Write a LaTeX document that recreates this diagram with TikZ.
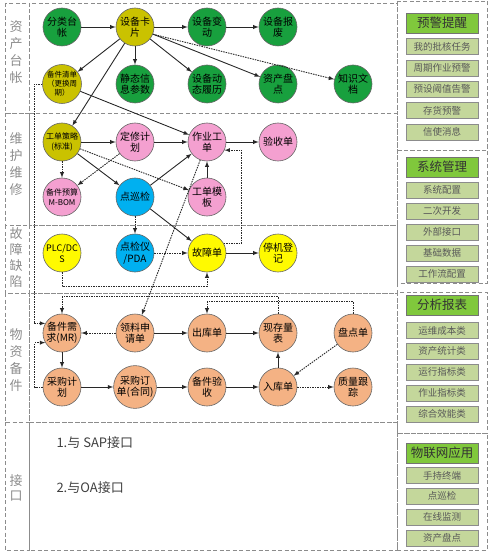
\documentclass[tikz,border=0pt]{standalone}
\usepackage{fontspec}
\setmainfont{Noto Sans CJK SC}
\usepackage{xcolor}
\usetikzlibrary{arrows}
\usetikzlibrary{math, calc}
\definecolor{qgreen}{RGB}{24,160,62}
\definecolor{qolive}{RGB}{202,194,0}
\definecolor{qpink}{RGB}{244,160,208}
\definecolor{qblue}{RGB}{0,176,240}
\definecolor{qyellow}{RGB}{255,250,0}
\definecolor{qpeach}{RGB}{244,178,132}
\definecolor{qhead}{RGB}{128,200,60}
\definecolor{qitem}{RGB}{196,215,155}
\definecolor{qgray}{RGB}{140,140,140}
\definecolor{qline}{RGB}{40,40,40}

\begin{document}
\begin{tikzpicture}[x=1pt,y=-1pt,
  ball/.style={circle,draw=black!60,line width=0.6,minimum size=38,inner sep=0,align=center,font=\fontsize{10}{11.5}\selectfont},
  smallfont/.style={font=\fontsize{7.5}{9}\selectfont},
  flow/.style={qline,line width=0.9,-latex},
  hint/.style={qline,line width=0.9,-latex,dash pattern=on 1.5pt off 1pt},
  secframe/.style={qgray,line width=0.8,dash pattern=on 4pt off 2.5pt},
  sidelabel/.style={text=qgray,align=center,font=\fontsize{13}{17}\selectfont},
  head/.style={draw=black!55,fill=qhead,minimum width=72,minimum height=20,inner sep=0,font=\fontsize{12.5}{14}\selectfont,text=black!80},
  item/.style={draw=black!45,fill=qitem,minimum width=72,minimum height=16,inner sep=0,font=\fontsize{9.5}{11}\selectfont,text=black!65},
]
\tikzmath{
\ca=62; \cb=135; \cc=207; \cd=278; \ce=353;
\ra=27; \rb=84; \rc=142; \rd=197; \re=253; \rf=333; \rg=387;
\px=442;
}
\useasboundingbox (0,0) rectangle (494,556);

%frames:
 \foreach \ya/\yb in {3/113,113/225,225/293,293/422,422/550}{
  \draw[secframe] (5,\ya) rectangle (29,\yb);
  \draw[secframe] (29,\ya) rectangle (397,\yb);
 }
 \draw[secframe] (397,1) rectangle (487,150);
 \draw[secframe] (397,150) rectangle (487,283);
 \draw[secframe] (397,292) rectangle (487,433);
 \draw[secframe] (397,433) rectangle (487,550);

%section labels
 \node[sidelabel] (sZC) at (16,52) {资\\产\\台\\帐};
 \node[sidelabel] (sWH) at (16,164) {维\\护\\维\\修};
 \node[sidelabel,font=\fontsize{13}{16}\selectfont] (sGZ) at (16,258) {故\\障\\缺\\陷};
 \node[sidelabel] (sWZ) at (16,360) {物\\资\\备\\件};
 \node[sidelabel,font=\fontsize{13}{15}\selectfont] (sJK) at (16,488) {接\\口};

%assets
 \node[ball,fill=qgreen] (fenlei) at (\ca,\ra) {分类台\\帐};
 \node[ball,fill=qolive] (kapian) at (\cb,\ra) {设备卡\\片};
 \node[ball,fill=qgreen] (biandong) at (\cc,\ra) {设备变\\动};
 \node[ball,fill=qgreen] (baofei) at (\cd,\ra) {设备报\\废};
 \node[ball,fill=qolive,smallfont] (qingdan) at (\ca,\rb) {备件清单\\（更换周\\期）};
 \node[ball,fill=qgreen] (jingtai) at (\cb,\rb) {静态信\\息参数};
 \node[ball,fill=qgreen] (lvli) at (\cc,\rb) {设备动\\态履历};
 \node[ball,fill=qgreen] (zcpandian) at (\cd,\rb) {资产盘\\点};
 \node[ball,fill=qgreen] (zhishi) at (\ce,\rb) {知识文\\档};

%maintenance
 \node[ball,fill=qolive,font=\fontsize{8}{10}\selectfont] (celue) at (\ca,\rc) {工单策略\\(标准)};
 \node[ball,fill=qpink] (dingxiu) at (\cb,\rc) {定修计\\划};
 \node[ball,fill=qpink] (gongdan) at (\cc,\rc) {作业工\\单};
 \node[ball,fill=qpink] (yanshou) at (\cd,\rc) {验收单};
 \node[ball,fill=qpink,font=\fontsize{8}{10}\selectfont] (yusuan) at (\ca,\rd) {备件预算\\M-BOM};
 \node[ball,fill=qblue] (xunjian) at (\cb,\rd) {点巡检};
 \node[ball,fill=qpink] (moban) at (\cc,\rd) {工单模\\板};

%faults
 \node[ball,fill=qyellow,font=\fontsize{9}{11}\selectfont] (plc) at (\ca,\re) {PLC/DC\\S};
 \node[ball,fill=qblue] (pda) at (\cb,\re) {点检仪\\/PDA};
 \node[ball,fill=qyellow] (guzhang) at (\cc,\re) {故障单};
 \node[ball,fill=qyellow] (tingji) at (\cd,\re) {停机登\\记};

%spare parts
 \node[ball,fill=qpeach] (xuqiu) at (\ca,\rf) {备件需\\求(MR)};
 \node[ball,fill=qpeach] (lingliao) at (\cb,\rf) {领料申\\请单};
 \node[ball,fill=qpeach] (chuku) at (\cc,\rf) {出库单};
 \node[ball,fill=qpeach] (kucun) at (\cd,\rf) {现存量\\表};
 \node[ball,fill=qpeach] (pandian) at (\ce,\rf) {盘点单};
 \node[ball,fill=qpeach] (caigou) at (\ca,\rg) {采购计\\划};
 \node[ball,fill=qpeach] (dingdan) at (\cb,\rg) {采购订\\单(合同)};
 \node[ball,fill=qpeach] (bjyanshou) at (\cc,\rg) {备件验\\收};
 \node[ball,fill=qpeach] (ruku) at (\cd,\rg) {入库单};
 \node[ball,fill=qpeach] (zhiliang) at (\ce,\rg) {质量跟\\踪};

%interfaces
 \node[anchor=west,font=\fontsize{13}{15}\selectfont,text=black!75] (sap) at (53,443) {1.与 SAP接口};
 \node[anchor=west,font=\fontsize{13}{15}\selectfont,text=black!75] (oa) at (53,488) {2.与OA接口};

%solid arrows
 \draw[flow] (fenlei) -- (kapian);
 \draw[flow] (kapian) -- (biandong);
 \draw[flow] (biandong) -- (baofei);
 \draw[flow] (kapian) -- (qingdan);
 \draw[flow] (kapian) -- (jingtai);
 \draw[flow] (kapian) -- (lvli);
 \draw[flow] (kapian) -- (zcpandian);
 \draw[flow] (kapian) -- (celue);
 \draw[flow] (qingdan) -- (gongdan);
 \draw[flow] (celue) -- (dingxiu);
 \draw[flow] (dingxiu) -- (gongdan);
 \draw[flow] (gongdan) -- (yanshou);
 \draw[flow] (celue) -- (xunjian);
 \draw[flow] (xunjian) -- (gongdan);
 \draw[flow] (moban) -- (gongdan);
 \draw[flow] (xunjian) -- (guzhang);
 \draw[flow] (guzhang) -- (tingji);
 \draw[flow] (lingliao) -- (chuku);
 \draw[flow] (chuku) -- (kucun);
 \draw[flow] (xuqiu) -- (caigou);
 \draw[flow] (caigou) -- (dingdan);
 \draw[flow] (dingdan) -- (bjyanshou);
 \draw[flow] (bjyanshou) -- (ruku);
 \draw[flow] (ruku) -- (kucun);

%dotted arrows
 \draw[hint] (kapian.-22) -- (zhishi);
 \draw[hint] (celue) -- (yusuan);
 \draw[hint] (dingxiu) -- (yusuan);
 \draw[hint] (celue) -- (moban);
 \draw[hint] (xunjian) -- (pda);
 \draw[hint] (pda) -- (guzhang);
 \draw[hint] (guzhang.30) -- ++(18,0) |- (gongdan.-25);
 \draw[hint] (plc.south) -- ++(0,14) -| (guzhang.south);
 \draw[hint] (gongdan) -- (lingliao);
 \draw[hint] (qingdan.west) -- ++(-8,0) |- (xuqiu.150);
 \draw[hint] (caigou.west) -- ++(-8,0) |- (xuqiu.210);
 \draw[hint] (lingliao) -- (xuqiu);
 \draw[hint] (kucun.north) -- ++(0,-17) -| (xuqiu.north);
 \draw[hint] (pandian.north) -- ++(0,-12) -| (chuku.north);
 \draw[hint] (pandian) -- (ruku);
 \draw[hint] (ruku) -- (zhiliang);

%side panels
 \node[head] (yjhead) at (\px,23) {预警提醒};
 \foreach \t [count=\i] in {我的批核任务,周期作业预警,预设阈值告警,存货预警,信使消息}
  \node[item] (yj\i) at (\px,{46.5+21.4*(\i-1)}) {\t};
 \node[head] (xthead) at (\px,167) {系统管理};
 \foreach \t [count=\i] in {系统配置,二次开发,外部接口,基础数据,工作流配置}
  \node[item] (xt\i) at (\px,{190+21*(\i-1)}) {\t};
 \node[head] (fxhead) at (\px,305) {分析报表};
 \foreach \t [count=\i] in {运维成本类,资产统计类,运行指标类,作业指标类,综合效能类}
  \node[item] (fx\i) at (\px,{330.5+20.9*(\i-1)}) {\t};
 \node[head] (wlhead) at (\px,453) {物联网应用};
 \foreach \t [count=\i] in {手持终端,点巡检,在线监测,资产盘点}
  \node[item] (wl\i) at (\px,{475.5+20.8*(\i-1)}) {\t};
\end{tikzpicture}
\end{document}
